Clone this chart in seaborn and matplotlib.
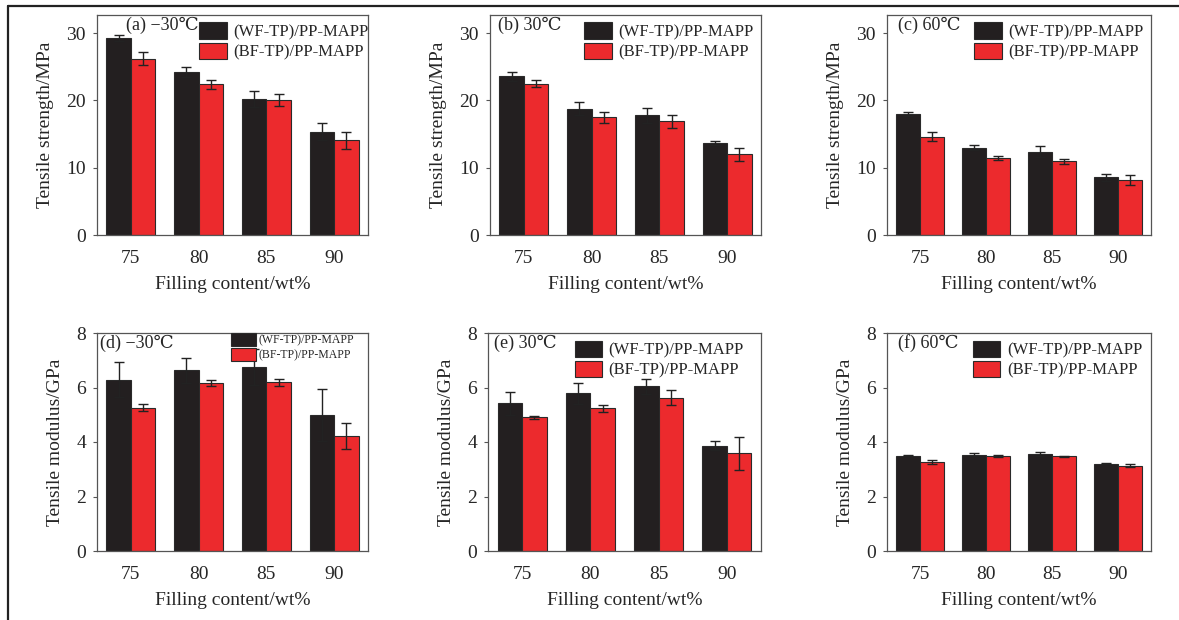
import numpy as np
import pandas as pd
import matplotlib
matplotlib.use("Agg")
import matplotlib.pyplot as plt
from matplotlib.lines import Line2D
from matplotlib.patches import Patch
import seaborn as sns

# ---------------- data ----------------
contents = ["75", "80", "85", "90"]
series = ["(WF-TP)/PP-MAPP", "(BF-TP)/PP-MAPP"]

# Tensile strength (MPa)
ts_wf_m30 = [29.3, 24.2, 20.25, 15.35]
ts_wf_m30_err = [0.5, 0.75, 1.2, 1.3]
ts_bf_m30 = [26.2, 22.4, 20.0, 14.05]
ts_bf_m30_err = [1.0, 0.7, 0.9, 1.3]

ts_wf_30 = [23.6, 18.8, 17.8, 13.7]
ts_wf_30_err = [0.7, 0.9, 1.1, 0.25]
ts_bf_30 = [22.5, 17.5, 16.9, 12.0]
ts_bf_30_err = [0.55, 0.85, 1.0, 0.95]

ts_wf_60 = [18.0, 13.0, 12.4, 8.55]
ts_wf_60_err = [0.3, 0.35, 0.8, 0.45]
ts_bf_60 = [14.6, 11.45, 10.95, 8.15]
ts_bf_60_err = [0.7, 0.35, 0.35, 0.75]

# Tensile modulus (GPa)
tm_wf_m30 = [6.29, 6.63, 6.75, 4.99]
tm_wf_m30_err = [0.65, 0.45, 0.65, 0.97]
tm_bf_m30 = [5.26, 6.17, 6.19, 4.21]
tm_bf_m30_err = [0.12, 0.11, 0.12, 0.48]

tm_wf_30 = [5.42, 5.78, 6.04, 3.86]
tm_wf_30_err = [0.42, 0.37, 0.28, 0.16]
tm_bf_30 = [4.90, 5.23, 5.63, 3.58]
tm_bf_30_err = [0.05, 0.14, 0.29, 0.60]

tm_wf_60 = [3.49, 3.54, 3.55, 3.20]
tm_wf_60_err = [0.02, 0.06, 0.07, 0.02]
tm_bf_60 = [3.26, 3.48, 3.47, 3.13]
tm_bf_60_err = [0.07, 0.03, 0.02, 0.06]

panel_titles = ["(a) \u221230\u2103", "(b) 30\u2103", "(c) 60\u2103",
                "(d) \u221230\u2103", "(e) 30\u2103", "(f) 60\u2103"]
ylabels = ["Tensile strength/MPa", "Tensile modulus/GPa"]
xlabel = "Filling content/wt%"
ts_ticks = [0, 10, 20, 30]
tm_ticks = [0, 2, 4, 6, 8]

# ---------------- style ----------------
sns.set_theme(style="white")
plt.rcParams["font.family"] = ["Liberation Serif", "DejaVu Serif"]

BLACK = "#231f20"
RED = "#ec2a2d"
EDGE = "#2a2a2a"
SPINE = "#555555"

W, H = 1179, 620
fig = plt.figure(figsize=(W / 100, H / 100), dpi=100)
fig.patch.set_facecolor("white")

def frac(left, top, right, bottom):
    return [left / W, 1 - bottom / H, (right - left) / W, (bottom - top) / H]

boxes = [
    frac(97, 15, 368, 235), frac(490, 15, 761, 235), frac(887, 15, 1151, 235),
    frac(97, 333, 368, 551), frac(488, 333, 761, 551), frac(887, 333, 1151, 551),
]

panels = [
    (ts_wf_m30, ts_wf_m30_err, ts_bf_m30, ts_bf_m30_err),
    (ts_wf_30, ts_wf_30_err, ts_bf_30, ts_bf_30_err),
    (ts_wf_60, ts_wf_60_err, ts_bf_60, ts_bf_60_err),
    (tm_wf_m30, tm_wf_m30_err, tm_bf_m30, tm_bf_m30_err),
    (tm_wf_30, tm_wf_30_err, tm_bf_30, tm_bf_30_err),
    (tm_wf_60, tm_wf_60_err, tm_bf_60, tm_bf_60_err),
]
title_offsets = [29, 8, 11, 3, 6, 11]
legend_right = [1.03, 1.0, 1.0, 0.965, 0.965, 0.995]

for i, (box, (wf, wfe, bf, bfe)) in enumerate(zip(boxes, panels)):
    ax = fig.add_axes(box)
    df = pd.DataFrame({
        "content": contents * 2,
        "value": list(wf) + list(bf),
        "err": list(wfe) + list(bfe),
        "series": [series[0]] * 4 + [series[1]] * 4,
    })
    sns.barplot(data=df, x="content", y="value", hue="series",
                order=contents, hue_order=series,
                palette=[BLACK, RED], width=0.72, saturation=1,
                edgecolor=EDGE, linewidth=0.8, errorbar=None,
                legend=False, ax=ax)
    for cont, errs in zip(ax.containers, [wfe, bfe]):
        xs = [b.get_x() + b.get_width() / 2 for b in cont]
        ys = [b.get_height() for b in cont]
        ax.errorbar(xs, ys, yerr=errs, fmt="none", ecolor="#222222",
                    elinewidth=1.0, capsize=3.5, capthick=1.0, zorder=5)

    top_row = i < 3
    ax.set_xlim(-0.5, 3.5)
    if top_row:
        ax.set_ylim(0, 32.7)
        ax.set_yticks(ts_ticks)
        ax.set_ylabel(ylabels[0], fontsize=14, labelpad=9)
    else:
        ax.set_ylim(0, 8)
        ax.set_yticks(tm_ticks)
        ax.set_ylabel(ylabels[1], fontsize=14, labelpad=9)
    ax.set_xlabel(xlabel, fontsize=14, labelpad=6)
    ax.tick_params(axis="y", direction="out", length=3, width=0.8,
                   color=SPINE, labelsize=14, pad=5, left=True)
    ax.tick_params(axis="x", length=0, labelsize=14, pad=11)
    for s in ax.spines.values():
        s.set_color(SPINE)
        s.set_linewidth(0.9)
        s.set_visible(True)

    ax.text(title_offsets[i] / (box[2] * W), 1 - 10 / (box[3] * H),
            panel_titles[i], transform=ax.transAxes, fontsize=13,
            ha="left", va="center", zorder=6)

    handles = [Patch(facecolor=BLACK, edgecolor=EDGE, linewidth=0.8),
               Patch(facecolor=RED, edgecolor=EDGE, linewidth=0.8)]
    if i == 3:
        ax.legend(handles, series, loc="upper right",
                  bbox_to_anchor=(legend_right[i], 1.02), frameon=False,
                  fontsize=8.5, handlelength=2.1, handleheight=1.3,
                  handletextpad=0.2, labelspacing=0.1, borderpad=0.2,
                  borderaxespad=0.2)
    else:
        ax.legend(handles, series, loc="upper right",
                  bbox_to_anchor=(legend_right[i], 1.0), frameon=False,
                  fontsize=12, handlelength=1.65, handleheight=1.15,
                  handletextpad=0.4, labelspacing=0.15, borderpad=0.25,
                  borderaxespad=0.2)

# figure frame (top and left edges)
fig.add_artist(Line2D([8 / W, 1.0], [1 - 6 / H, 1 - 6 / H],
                      transform=fig.transFigure, color="#222222", lw=1.6))
fig.add_artist(Line2D([8 / W, 8 / W], [0.0, 1 - 6 / H],
                      transform=fig.transFigure, color="#222222", lw=1.6))

fig.savefig("out.png", dpi=100, facecolor="white")
